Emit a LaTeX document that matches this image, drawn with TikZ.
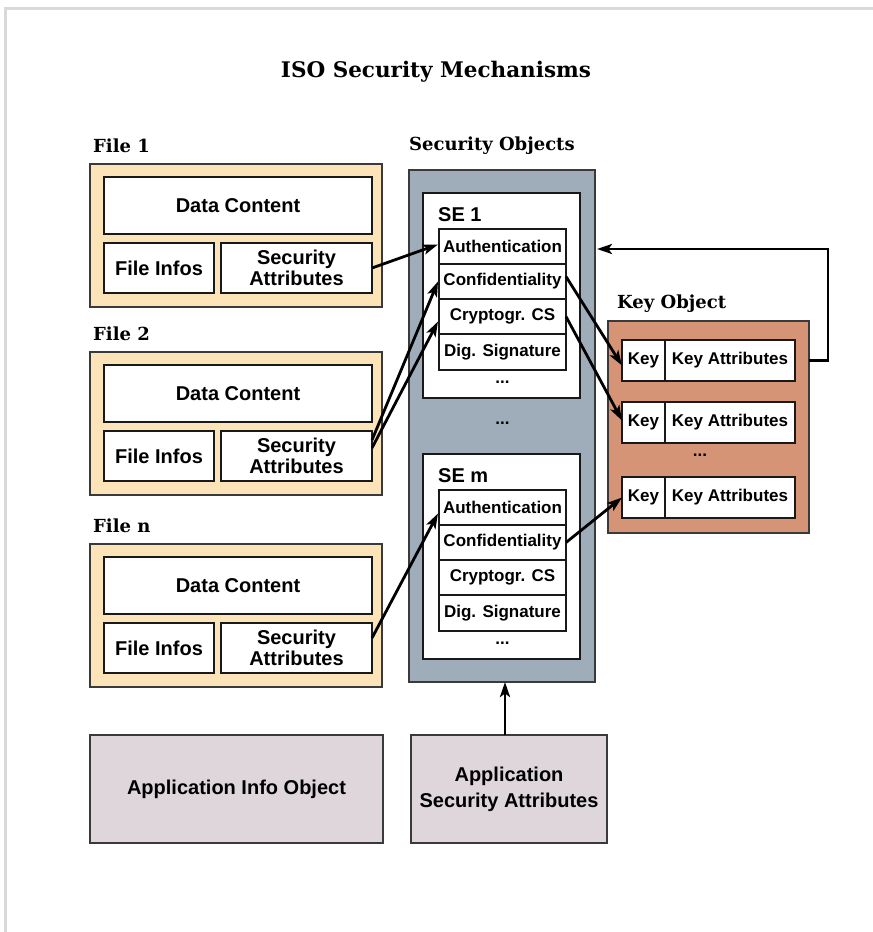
\documentclass[tikz,border=0pt]{standalone}
\usepackage{fontspec}
\setsansfont{Liberation Sans}
\newfontfamily\headfont{DejaVu Serif}
\usetikzlibrary{arrows.meta,calc}

\definecolor{filefill}{HTML}{FDE3B8}
\definecolor{secfill}{HTML}{9FACB9}
\definecolor{keyfill}{HTML}{D69477}
\definecolor{appfill}{HTML}{DED6DA}
\definecolor{framegray}{HTML}{D9D9D9}
\definecolor{edge}{HTML}{3A3A3A}

\begin{document}
\begin{tikzpicture}[x=1pt,y=-1pt,
  base/.style={inner sep=0pt, outer sep=0pt, anchor=north west, align=center},
  outerbox/.style={base, draw=edge, line width=1.3pt},
  cell/.style={base, draw=black!90, line width=1.2pt, fill=white},
  bigtext/.style={font=\sffamily\bfseries\fontsize{20}{20.5}\selectfont},
  smalltext/.style={font=\sffamily\bfseries\fontsize{17}{18}\selectfont},
  heading/.style={inner sep=0pt, anchor=base west, font=\headfont\bfseries\fontsize{18}{21}\selectfont},
  link/.style={line width=2.8pt, -{Stealth[length=15pt,width=10pt,inset=3.5pt]}},
]
\useasboundingbox (0,0) rectangle (873,932);

% page frame (top and left edges)
\draw[framegray, line width=3pt] (5.5,932) -- (5.5,8.5) -- (873,8.5);

% title
\node[inner sep=0pt, anchor=base, font=\headfont\bfseries\fontsize{21.5}{26}\selectfont] (title) at (436,77) {ISO Security Mechanisms};

% files
\foreach \t/\n/\lab in {164/1/File 1, 352/2/File 2, 544/3/File n}{
  \node[heading] (flab\n) at (93,\t-12) {\lab};
  \node[outerbox, fill=filefill, minimum width=292pt, minimum height=143pt] (file\n) at (90,\t) {};
  \node[cell, bigtext, minimum width=268pt, minimum height=57pt] (data\n) at (104,\t+13) {Data Content};
  \node[cell, bigtext, minimum width=110pt, minimum height=50pt] (info\n) at (104,\t+79) {File Infos};
  \node[cell, bigtext, minimum width=151pt, minimum height=50pt] (sa\n) at (221,\t+79) {Security\\Attributes};
}

% security objects
\node[heading] (solab) at (409,150) {Security Objects};
\node[outerbox, fill=secfill, minimum width=186pt, minimum height=512pt] (sobj) at (409,170) {};

\foreach \t/\n/\lab in {193/1/SE 1, 454/m/SE m}{
  \node[cell, minimum width=157pt, minimum height=205pt] (se\n) at (423,\t) {};
  \node[inner sep=0pt, anchor=base west, bigtext] (selab\n) at (438,\t+28) {\lab};
  \node[cell, smalltext, minimum width=127pt, minimum height=35pt] (auth\n) at (439,\t+36) {Authentication};
  \node[cell, smalltext, minimum width=127pt, minimum height=35pt] (conf\n) at (439,\t+71) {Confidentiality};
  \node[cell, smalltext, minimum width=127pt, minimum height=35pt] (crypt\n) at (439,\t+106) {Cryptogr. CS};
  \node[cell, smalltext, minimum width=127pt, minimum height=36pt] (dig\n) at (439,\t+141) {Dig. Signature};
  \node[inner sep=0pt, smalltext] (sedots\n) at (502.5,\t+189) {...};
}
\node[inner sep=0pt, smalltext] (midots) at (502.5,423) {...};

% key object
\node[heading] (kolab) at (617,308) {Key Object};
\node[outerbox, fill=keyfill, minimum width=201pt, minimum height=212pt] (ko) at (608,321) {};
\foreach \t/\n in {340/1, 402/2, 477/3}{
  \node[cell, smalltext, minimum width=43pt, minimum height=41pt] (key\n) at (622,\t) {Key};
  \node[cell, smalltext, minimum width=130pt, minimum height=41pt] (kattr\n) at (665,\t) {Key Attributes};
}
\node[inner sep=0pt, smalltext] (kdots) at (700,455) {...};

% application objects
\node[outerbox, fill=appfill, bigtext, minimum width=293pt, minimum height=108pt] (appinfo) at (90,735) {Application Info Object};
\node[outerbox, fill=appfill, font=\sffamily\bfseries\fontsize{20}{26}\selectfont, minimum width=196pt, minimum height=108pt] (appsec) at (411,735) {Application\\Security Attributes};

% references from file security attributes to security environments
\draw[link] (sa1.east) -- ($(auth1.west)+(-1,-2)$);
\draw[link] ($(sa2.east)+(0,-16)$) -- ($(conf1.west)+(-1,0)$);
\draw[link] ($(sa2.east)+(0,-8)$) -- ($(crypt1.west)+(-1,5)$);
\draw[link] ($(sa3.east)+(0,-10)$) -- ($(authm.west)+(-1,6)$);

% references from security environments to keys
\draw[link] ($(conf1.east)+(0,-5)$) -- ($(key1.west)+(0,5)$);
\draw[link] (crypt1.east) -- ($(key2.west)+(0,-2)$);
\draw[link] (confm.east) -- (key3.west);

% key attributes back to the security objects
\coordinate (fb) at (828,249);
\draw[link] (kattr1.east -| ko.east) -- (fb |- kattr1.east) -- (fb) -- ($(fb -| sobj.east)+(2,0)$);

% application security attributes to the security objects
\coordinate (asx) at ($(appsec.north)+(-4,0)$);
\draw[link] (asx) -- (asx |- sobj.south);
\end{tikzpicture}
\end{document}
